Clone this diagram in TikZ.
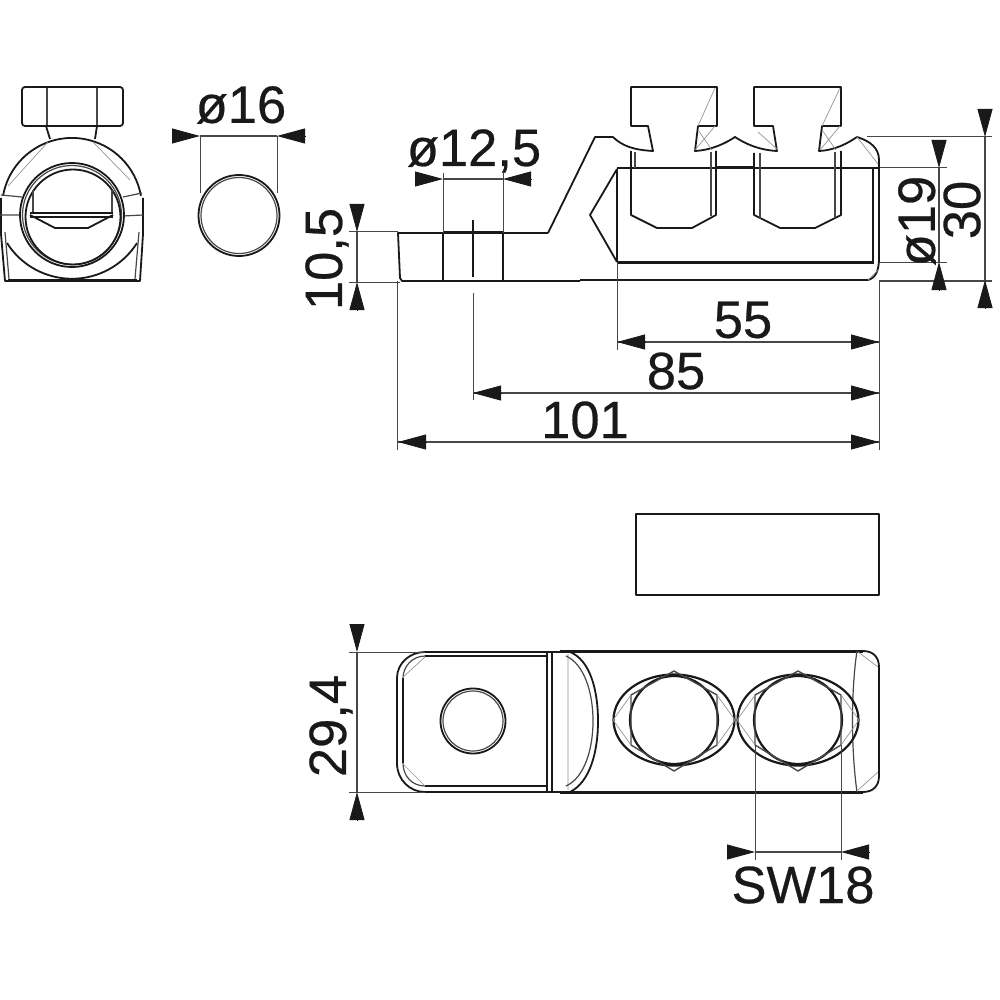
\documentclass[tikz,border=0pt]{standalone}
\usepackage{fontspec}
\setmainfont{Liberation Sans}
\newfontfamily\dimfont[FakeBold=0.5]{Liberation Sans}
\usetikzlibrary{
  arrows.meta,
  calc
}
\definecolor{inkblack}{RGB}{25,25,25}
\definecolor{hairgray}{RGB}{150,150,150}

\begin{document}
\begin{tikzpicture}[
  x=1pt, y=-1pt,
  outl/.style={draw=inkblack, line width=1.8pt, line join=round},
  heavy/.style={draw=inkblack, line width=3pt},
  inner/.style={draw=inkblack!80, line width=1.2pt, line join=round},
  hair/.style={draw=hairgray, line width=0.7pt},
  extline/.style={draw=inkblack!80, line width=1pt},
  dimline/.style={draw=inkblack!80, line width=1.2pt},
  dimtip/.style={draw=inkblack, -{Triangle[length=28pt,width=15pt]}, line width=0.8pt},
  dimtext/.style={font=\dimfont\fontsize{52.5}{52.5}\selectfont, text=inkblack, inner sep=0pt}
]
  \useasboundingbox (0,0) rectangle (1000,1000);
  \fill[white] (0,0) rectangle (1000,1000);

  % end view
  \draw[outl, rounded corners=3pt] (22,87) -- (123,87) -- (123,126) -- (22,126) -- cycle;
  \draw[inner] (47,88) -- (47,125) (97,88) -- (97,125);
  \draw[outl] (46,126) -- (50,139) (97,126) -- (95,139);
  \draw[outl] (3.06,195.8) arc[start angle=190, end angle=350, radius=70];
  \draw[outl] (143,198) -- (143,234) -- (140,281) -- (5,281) -- (1,234) -- (1,198);
  \draw[heavy, line width=2.4pt] (8,280) -- (137,280);
  \draw[outl] (7,243) arc[start angle=147.6, end angle=32.4, radius=77];
  \draw[inner] (5,232) -- (9,279) (139,232) -- (135,279);
  \draw[inner] (1,195) -- (22,197) (0,215) -- (20,215) (123,197) -- (142,193) (123,216) -- (143,215);
  \draw[draw=none, fill=white] (72,215) circle[radius=52];
  \draw[outl] (72,215) circle[radius=52];
  \draw[inner] (72,215) circle[radius=49.5];
  \draw[outl] (73,217) circle[radius=47.5];
  \draw[inner] (33,190) -- (33,213) (112,190) -- (112,213);
  \draw[outl] (30,213) -- (113,213) (30,217) -- (113,217);
  \draw[outl] (30,215) -- (55,228) -- (88,228) -- (113,215);
  \draw[hair] (8,186) -- (48,142) (93,142) -- (130,180);

  % wire section
  \draw[outl] (239,215.5) circle[radius=40.5];
  \draw[inner] (239,215.5) circle[radius=38];
  \coordinate (d16l) at (200,136);
  \coordinate (d16r) at (277,136);
  \draw[extline] (d16l) -- (200,193);
  \draw[extline] (d16r) -- (277,193);
  \node[dimtext] (t16) at (241,105) {ø16};

  % side view, lug
  \draw[outl] (548,233) -- (398,233) -- (400,278) -- (402,281) -- (580,281);
  \draw[outl] (548,233) -- (595,137) -- (613,137);
  \draw[outl] (443,233) -- (443,281) (503,233) -- (503,281);
  \draw[heavy] (443,233) -- (503,233);
  \draw[outl] (473,220) -- (473,277);
  \draw[extline] (473,293) -- (473,400);
  \draw[extline] (443,173) -- (443,233) (503,173) -- (503,233);
  \draw[outl] (580,280) -- (868,280);
  \coordinate (d125l) at (443,179);
  \coordinate (d125r) at (503,179);
  \node[dimtext] (t125) at (474,151) {ø12,5};

  % side view, body
  \draw[outl] (617,169) -- (590,215) -- (617,262);
  \draw[outl] (617,169) -- (617,262);
  \draw[outl] (617,168) -- (879,168);
  \draw[heavy] (717,168) -- (754,168);
  \draw[heavy] (617,262) -- (874,262);
  \draw[outl] (873,169) -- (873,261);
  \draw[outl] (857,137) .. controls (870,141) and (879,148) .. (879,160) -- (879,258) .. controls (879,270) and (876,278) .. (868,280);

  % side view, screws
  \draw[outl] (613,137) .. controls (622,146) and (634,150) .. (653,151) -- (648,126) -- (631,126) -- (631,87)
    -- (717,87) -- (717,126) -- (698,126) -- (695,151)
    .. controls (712,150) and (726,143) .. (735,137)
    .. controls (744,143) and (758,150) .. (777,151) -- (773,126) -- (754,126) -- (754,87)
    -- (841,87) -- (841,126) -- (822,126) -- (819,151) .. controls (836,150) and (848,143) .. (857,137);
  \draw[outl] (631,151) -- (631,215) -- (657,228) -- (692,228) -- (716,215) -- (716,151);
  \draw[outl] (754,153) -- (754,215) -- (780,228) -- (815,228) -- (841,215) -- (841,151);
  \draw[inner] (635,152) -- (635,168) (711,152) -- (711,216) (760,153) -- (760,219) (835,152) -- (835,218);
  \draw[hair] (698,126) -- (715,88) (698,130) -- (712,150) (715,126) -- (695,150)
    (822,126) -- (840,88) (822,130) -- (836,150) (840,126) -- (820,150) (857,137) -- (878,164)
    (778,150) -- (758,132) (868,280) -- (878,270);

  % plate above the top view
  \draw[outl] (636,514) rectangle (879,595);

  % top view, lug
  \draw[outl] (425,652) .. controls (410,652) and (397,663) .. (397,678) -- (397,763)
    .. controls (397,780) and (410,792) .. (425,792) -- (560,792);
  \draw[outl] (425,652) -- (560,652);
  \draw[inner] (425,656) .. controls (412,656) and (403,667) .. (403,678) -- (403,763)
    .. controls (403,776) and (412,786) .. (425,786);
  \draw[outl] (425,656) -- (547,656) (425,786) -- (547,786);
  \draw[outl] (403,678) -- (403,763);
  \draw[outl] (547,652) -- (547,792) (552,652) -- (552,792);
  \draw[hair] (568,654) -- (568,790) (425,657) -- (402,678) (402,763) -- (425,786);
  \draw[outl] (570,652) .. controls (590,660) and (598,690) .. (598,721) .. controls (598,752) and (590,782) .. (570,792);
  \draw[inner] (566,656) .. controls (584,664) and (593,692) .. (593,721) .. controls (593,750) and (584,778) .. (566,786);
  \draw[outl] (473,721) circle[radius=32.5];
  \draw[inner] (473,721) circle[radius=30];

  % top view, body
  \draw[heavy] (560,651) -- (863,651);
  \draw[heavy] (560,792) -- (863,792);
  \draw[outl] (863,651) .. controls (873,651) and (879,657) .. (879,667) -- (879,776) .. controls (879,786) and (873,792) .. (863,792);
  \draw[inner] (857,651) .. controls (851,690) and (851,750) .. (857,792);
  \draw[hair] (858,652) -- (878,667) (858,790) -- (878,772);

  % top view, screws
  \foreach \cx in {674,798} {
    \draw[outl, line width=2.2pt] (\cx,720) ellipse[x radius=60.5, y radius=45.5];
    \draw[outl, line width=2.2pt] (\cx,720) circle[radius=44];
    \draw[inner, line width=1.4pt] (\cx,671) -- (\cx+43,695) -- (\cx+43,745) -- (\cx,771) -- (\cx-43,745) -- (\cx-43,695) -- cycle;
    \draw[hair] (\cx-43,695) -- (\cx-61,720) -- (\cx-43,745) (\cx+43,695) -- (\cx+61,720) -- (\cx+43,745);
  }

  % dimension anchors
  \coordinate (d105t) at (357,232);
  \coordinate (d105b) at (357,282);
  \coordinate (d294t) at (357,652);
  \coordinate (d294b) at (357,792);
  \coordinate (d19t) at (939,168);
  \coordinate (d19b) at (939,262);
  \coordinate (d30t) at (985,137);
  \coordinate (d30b) at (985,280);
  \coordinate (d55l) at (617,342);
  \coordinate (d55r) at (879,342);
  \coordinate (d85l) at (473,393);
  \coordinate (d85r) at (879,393);
  \coordinate (d101l) at (398,442);
  \coordinate (d101r) at (879,442);
  \coordinate (dswl) at (755,852);
  \coordinate (dswr) at (841,852);

  % extension lines
  \draw[extline] (349,232) -- (398,232) (349,282) -- (400,282);
  \draw[extline] (349,652) -- (425,652) (349,792) -- (425,792);
  \draw[extline] (880,168) -- (947,168) (880,262) -- (947,262);
  \draw[extline] (867,137) -- (992,137);
  \draw[extline, line width=1.6pt] (879,281) -- (992,281);
  \draw[extline] (397,281) -- (397,450);
  \draw[extline] (617,262) -- (617,350);
  \draw[extline] (879,280) -- (879,450);
  \draw[extline] (755,745) -- (755,860) (841,745) -- (841,860);

  % dimension lines
  \foreach \from/\to in {d16l/d16r,d125l/d125r,d105t/d105b,d294t/d294b,d19t/d19b,d30t/d30b,d55l/d55r,d85l/d85r,d101l/d101r,dswl/dswr}
    \draw[dimline] (\from) -- (\to);

  % arrow heads
  \foreach \tipname/\dx/\dy in {d16l/-28/0,d16r/28/0,d125l/-28/0,d125r/28/0,d105t/0/-28,d105b/0/28,d294t/0/-28,d294b/0/28,d19t/0/-28,d19b/0/28,d30t/0/-28,d30b/0/28,d55l/28/0,d55r/-28/0,d85l/28/0,d85r/-28/0,d101l/28/0,d101r/-28/0,dswl/-28/0,dswr/28/0}
    \draw[dimtip] ([shift={(\dx,\dy)}]\tipname) -- (\tipname);

  % dimension texts
  \node[dimtext, rotate=90] (t105) at (327,259) {10,5};
  \node[dimtext, rotate=90] (t294) at (331,726) {29,4};
  \node[dimtext, rotate=90] (t19) at (917,221) {ø19};
  \node[dimtext, rotate=90] (t30) at (962,210) {30};
  \node[dimtext] (t55) at (743,320) {55};
  \node[dimtext] (t85) at (676,371) {85};
  \node[dimtext] (t101) at (585,420) {101};
  \node[dimtext] (tsw) at (803,885) {SW18};
\end{tikzpicture}
\end{document}
